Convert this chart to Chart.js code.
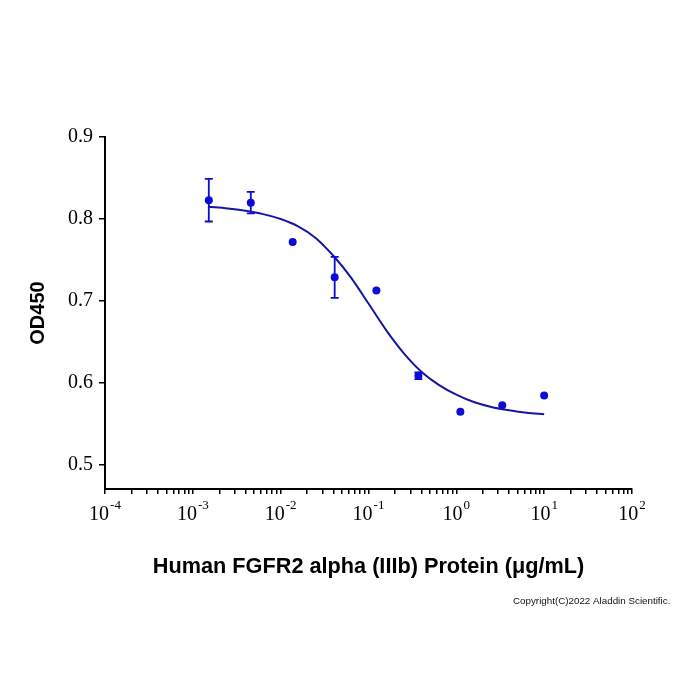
<!DOCTYPE html>
<html>
<head>
<meta charset="utf-8">
<script src="https://cdn.jsdelivr.net/npm/chart.js@4.4.1/dist/chart.umd.min.js"></script>
<style>
  html, body { margin: 0; padding: 0; background: #fff; }
  #wrap { width: 700px; height: 700px; position: relative; }
</style>
</head>
<body>
<div id="wrap"><canvas id="chart"></canvas></div>
<script>
// measured points: concentration (μg/mL) vs OD450, with error (±)
const concentrations = [0.00152, 0.00457, 0.0137, 0.0412, 0.123, 0.370, 1.111, 3.333, 10];
const od450 = [0.823, 0.820, 0.772, 0.729, 0.713, 0.609, 0.565, 0.573, 0.585];
const od450Err = [0.026, 0.013, 0, 0.025, 0, 0.004, 0, 0, 0];

// fitted curve
const fitX = [0.0015, 0.0025, 0.004, 0.0063, 0.01, 0.0158, 0.025, 0.04, 0.063, 0.1, 0.158, 0.25, 0.4, 0.63, 1, 1.58, 2.5, 4, 6.3, 10];
const fitY = [0.815, 0.813, 0.810, 0.806, 0.800, 0.791, 0.777, 0.755, 0.729, 0.697, 0.665, 0.637, 0.614, 0.598, 0.586, 0.577, 0.571, 0.567, 0.564, 0.562];

// axis ticks
const xExponents = [-4, -3, -2, -1, 0, 1, 2];
const yTicks = [0.5, 0.6, 0.7, 0.8, 0.9];

const xTitle = 'Human FGFR2 alpha (IIIb) Protein (μg/mL)';
const yTitle = 'OD450';
const copyright = 'Copyright(C)2022 Aladdin Scientific.';

const pointColor = '#0c0cd8';
const lineColor = '#1616a0';

/**
 * Error bars with caps, drawn through the chart scales
 */
const errorBars = {
  id: 'errorBars',
  afterDatasetsDraw(chart) {
    const {ctx, scales: {x, y}} = chart;
    ctx.save();
    ctx.strokeStyle = pointColor;
    ctx.lineWidth = 1.8;
    concentrations.forEach((c, i) => {
      const e = od450Err[i];
      if (!e) return;
      const px = x.getPixelForValue(c);
      const top = y.getPixelForValue(od450[i] + e);
      const bottom = y.getPixelForValue(od450[i] - e);
      ctx.beginPath();
      ctx.moveTo(px, top); ctx.lineTo(px, bottom);
      ctx.moveTo(px - 4, top); ctx.lineTo(px + 4, top);
      ctx.moveTo(px - 4, bottom); ctx.lineTo(px + 4, bottom);
      ctx.stroke();
    });
    ctx.restore();
  }
};

/**
 * 10^n labels on the x axis and the copyright line
 */
const powerLabels = {
  id: 'powerLabels',
  afterDraw(chart) {
    const {ctx, scales: {x}, chartArea} = chart;
    ctx.save();
    ctx.fillStyle = '#000';
    ctx.textAlign = 'left';
    ctx.textBaseline = 'alphabetic';
    xExponents.forEach(e => {
      const px = x.getPixelForValue(Math.pow(10, e));
      const sup = String(e);
      ctx.font = '20px "Liberation Serif"';
      const bw = ctx.measureText('10').width;
      ctx.font = '13px "Liberation Serif"';
      const sw = ctx.measureText(sup).width;
      const left = px - (bw + sw + 1) / 2;
      ctx.font = '20px "Liberation Serif"';
      ctx.fillText('10', left, chartArea.bottom + 31);
      ctx.font = '13px "Liberation Serif"';
      ctx.fillText(sup, left + bw + 1, chartArea.bottom + 20);
    });
    ctx.font = '9.8px "Liberation Sans"';
    ctx.fillStyle = '#111';
    ctx.fillText(copyright, 513, 604);
    ctx.restore();
  }
};

new Chart(document.getElementById('chart'), {
  type: 'scatter',
  data: {
    datasets: [
      {
        data: fitX.map((v, i) => ({x: v, y: fitY[i]})),
        showLine: true,
        borderColor: lineColor,
        borderWidth: 2,
        pointRadius: 0,
        cubicInterpolationMode: 'monotone',
        fill: false
      },
      {
        data: concentrations.map((v, i) => ({x: v, y: od450[i]})),
        showLine: false,
        pointRadius: 4,
        pointBackgroundColor: pointColor,
        pointBorderWidth: 0
      }
    ]
  },
  options: {
    responsive: true,
    maintainAspectRatio: false,
    animation: false,
    layout: {padding: {top: 137, right: 68, left: 0, bottom: 0}},
    plugins: {legend: {display: false}, tooltip: {enabled: false}},
    scales: {
      x: {
        type: 'logarithmic',
        position: 'bottom',
        min: 1e-4,
        max: 100,
        afterBuildTicks(scale) {
          const ticks = [];
          xExponents.forEach((e, k) => {
            ticks.push({value: Math.pow(10, e), major: true});
            if (k < xExponents.length - 1) {
              for (let m = 2; m <= 9; m++) ticks.push({value: m * Math.pow(10, e)});
            }
          });
          scale.ticks = ticks;
        },
        afterFit(scale) {
          scale.height = 211;
          scale.paddingLeft = 0;
          scale.paddingRight = 0;
        },
        ticks: {display: false},
        grid: {display: true, drawOnChartArea: false, drawTicks: true, tickLength: 5, color: '#000', lineWidth: 1.5},
        border: {display: true, color: '#000', width: 2},
        title: {
          display: true,
          text: xTitle,
          color: '#000',
          font: {family: '"Liberation Sans"', size: 21.7, weight: 'bold'},
          padding: {top: 0, bottom: 120}
        }
      },
      y: {
        min: 0.471,
        max: 0.9,
        afterBuildTicks(scale) {
          scale.ticks = yTicks.map(v => ({value: v}));
        },
        afterFit(scale) {
          scale.width = 105;
          scale.paddingTop = 0;
          scale.paddingBottom = 0;
        },
        ticks: {
          color: '#000',
          padding: 6,
          font: {family: '"Liberation Serif"', size: 20},
          callback: v => v.toFixed(1)
        },
        grid: {display: true, drawOnChartArea: false, drawTicks: true, tickLength: 6, color: '#000', lineWidth: 1.5},
        border: {display: true, color: '#000', width: 2},
        title: {
          display: true,
          text: yTitle,
          color: '#000',
          font: {family: '"Liberation Sans"', size: 20, weight: 'bold'},
          padding: {top: 26, bottom: 0}
        }
      }
    }
  },
  plugins: [errorBars, powerLabels]
});
</script>
</body>
</html>
